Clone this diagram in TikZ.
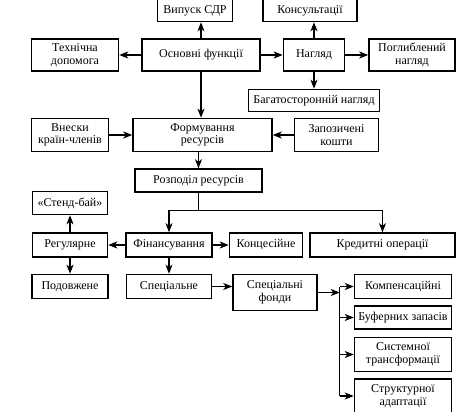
\documentclass[tikz,border=0pt]{standalone}
\usepackage{fontspec}
\setmainfont{Liberation Serif}
\usetikzlibrary{arrows.meta,positioning}

\begin{document}
\begin{tikzpicture}[
        x=1pt, y=-1pt,
        box/.style={
            draw, line width=1.5pt, rectangle,
            align=center, inner sep=2pt, text=black,
            font=\fontsize{12}{12.5}\selectfont
        },
        ->, >={Stealth[length=9pt,width=7pt,inset=2.5pt]}, line width=1.3pt
      ]

  \useasboundingbox (0,0) rectangle (466,412);

  % upper part
  \node   (osnov) at (201,55) [box,minimum width=118pt,minimum height=32pt] {Основні функції};
  \node   (tekhn) [box,left=22pt of osnov,minimum width=87pt,minimum height=32pt] {Технічна\\допомога};
  \node   (nahliad) [box,right=22pt of osnov,minimum width=61pt,minimum height=32pt] {Нагляд};
  \node   (pohlyb) [box,right=23pt of nahliad,minimum width=86pt,minimum height=32pt] {Поглиблений\\нагляд};
  \node   (vypusk) [box,above=16pt of osnov,xshift=-6pt,minimum width=75pt,minimum height=22pt] {Випуск СДР};
  \node   (konsult) [box,above=16pt of nahliad,xshift=-4pt,minimum width=94pt,minimum height=22pt] {Консультації};
  \node   (bahato) [box,below=17pt of nahliad,minimum width=131pt,minimum height=22pt] {Багатосторонній нагляд};

  \node   (formuv) [box,below=46pt of osnov,xshift=1.5pt,minimum width=139pt,minimum height=33pt] {Формування\\ресурсів};
  \node   (vnesky) [box,left=23pt of formuv,minimum width=77pt,minimum height=33pt] {Внески\\країн-членів};
  \node   (zapoz) [box,right=21pt of formuv,minimum width=84pt,minimum height=33pt] {Запозичені\\кошти};
  \node   (rozpodil) [box,below=16pt of formuv,xshift=-4pt,minimum width=127pt,minimum height=23pt] {Розподіл ресурсів};

  % lower part
  \node   (finans) at (169,245) [box,minimum width=86pt,minimum height=24pt] {Фінансування};
  \node   (rehul) [box,left=17pt of finans,minimum width=75pt,minimum height=24pt] {Регулярне};
  \node   (kontses) [box,right=16pt of finans,minimum width=73pt,minimum height=24pt] {Концесійне};
  \node   (kredyt) [box,right=6pt of kontses,minimum width=145pt,minimum height=24pt] {Кредитні операції};
  \node   (stendbai) [box,above=17pt of rehul,minimum width=75pt,minimum height=23pt] {«Стенд-бай»};
  \node   (podovzh) [box,below=16pt of rehul,minimum width=76pt,minimum height=24pt] {Подовжене};
  \node   (spets) [box,below=16pt of finans,minimum width=85pt,minimum height=24pt] {Спеціальне};
  \node   (fondy) [box,right=20pt of spets.north east,anchor=north west,minimum width=84pt,minimum height=36pt] {Спеціальні\\фонди};

  \node   (kompens) [box,right=36pt of fondy.north east,anchor=north west,minimum width=97pt,minimum height=24pt] {Компенсаційні};
  \node   (bufer) [box,below=6pt of kompens,minimum width=97pt,minimum height=23pt] {Буферних запасів};
  \node   (system) [box,below=7pt of bufer,minimum width=97pt,minimum height=34pt] {Системної\\трансформації};
  \node   (struct) [box,below=6pt of system,minimum width=97pt,minimum height=34pt] {Структурної\\адаптації};

  % arrows
  \draw (osnov.north) -- (osnov.north |- vypusk.south);
  \draw (nahliad.north) -- (nahliad.north |- konsult.south);
  \draw (osnov) -- (tekhn);
  \draw (osnov) -- (nahliad);
  \draw (nahliad) -- (pohlyb);
  \draw (nahliad) -- (bahato);
  \draw (osnov.south) -- (osnov.south |- formuv.north);
  \draw (vnesky) -- (formuv);
  \draw (zapoz) -- (formuv);
  \draw (rozpodil.north |- formuv.south) -- (rozpodil.north);

  \draw[-] (rozpodil.south) -- ++(0,18) coordinate (split);
  \draw (split) -| (finans.north);
  \draw (split) -| (kredyt.north);

  \draw (finans) -- (rehul);
  \draw (finans) -- (kontses);
  \draw (rehul) -- (stendbai);
  \draw (rehul) -- (podovzh);
  \draw (finans.south) -- (finans.south |- spets.north);
  \draw (spets.east) -- (spets.east -| fondy.west);

  \coordinate (bus) at ([xshift=22pt]fondy.east);
  \draw (fondy.east) -- (bus);
  \draw[-] (bus |- kompens) -- (bus |- struct);
  \foreach \n in {kompens,bufer,system,struct}
    \draw (bus |- \n) -- (\n.west);

\end{tikzpicture}
\end{document}
